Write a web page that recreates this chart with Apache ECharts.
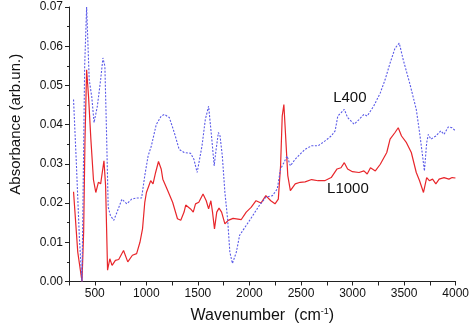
<!DOCTYPE html>
<html>
<head>
<meta charset="utf-8">
<script src="https://cdn.jsdelivr.net/npm/echarts@6/dist/echarts.min.js"></script>
<style>
  html, body { margin: 0; padding: 0; background: #fff; }
  #chart { width: 472px; height: 329px; }
</style>
</head>
<body>
<div id="chart"></div>
<script>
// wavenumber (cm-1), absorbance pairs
var l1000Wave = [294, 335, 376, 392, 405, 421, 440, 462, 487, 510, 535, 557, 589, 605, 624, 646, 668, 700, 732, 779, 820, 865, 906, 938, 963, 985, 1001, 1042, 1065, 1090, 1118, 1144, 1160, 1207, 1255, 1302, 1334, 1366, 1382, 1429, 1455, 1477, 1509, 1550, 1581, 1604, 1626, 1642, 1661, 1683, 1705, 1730, 1762, 1794, 1841, 1921, 1969, 2016, 2064, 2112, 2159, 2207, 2248, 2280, 2302, 2318, 2334, 2349, 2372, 2397, 2444, 2492, 2540, 2603, 2666, 2730, 2793, 2850, 2888, 2920, 2952, 2999, 3063, 3110, 3142, 3174, 3221, 3269, 3332, 3364, 3412, 3443, 3475, 3523, 3570, 3618, 3650, 3688, 3719, 3745, 3776, 3808, 3840, 3887, 3935, 3966, 3998];
var l1000Abs = [0.0229, 0.0075, 0.0, 0.0126, 0.036, 0.054, 0.047, 0.0363, 0.026, 0.0227, 0.0253, 0.0249, 0.0308, 0.0244, 0.0029, 0.0058, 0.0041, 0.0054, 0.0056, 0.0079, 0.005, 0.0067, 0.0071, 0.010, 0.0134, 0.0202, 0.0227, 0.0257, 0.0249, 0.0278, 0.0306, 0.0287, 0.0261, 0.0232, 0.0202, 0.016, 0.0156, 0.0177, 0.0195, 0.0185, 0.0177, 0.0198, 0.0202, 0.0223, 0.0206, 0.0185, 0.0206, 0.0177, 0.0134, 0.0177, 0.0187, 0.0177, 0.0147, 0.0156, 0.0161, 0.0158, 0.0177, 0.0189, 0.0206, 0.020, 0.0219, 0.0206, 0.0198, 0.021, 0.0295, 0.0422, 0.0451, 0.038, 0.027, 0.0232, 0.0249, 0.0253, 0.0254, 0.026, 0.0257, 0.0257, 0.0265, 0.0287, 0.029, 0.0303, 0.0287, 0.028, 0.0278, 0.0282, 0.0274, 0.029, 0.0282, 0.0299, 0.0329, 0.0363, 0.038, 0.0392, 0.0371, 0.0354, 0.0329, 0.0278, 0.0257, 0.0227, 0.0265, 0.0257, 0.0261, 0.0249, 0.0261, 0.0265, 0.0261, 0.0265, 0.0264];

var l400Wave = [294, 320, 351, 376, 402, 421, 446, 471, 493, 525, 557, 579, 598, 614, 630, 652, 684, 716, 763, 811, 858, 906, 954, 985, 1017, 1049, 1096, 1144, 1176, 1223, 1271, 1318, 1366, 1429, 1461, 1493, 1509, 1540, 1572, 1604, 1620, 1635, 1658, 1677, 1699, 1715, 1737, 1762, 1788, 1810, 1835, 1873, 1905, 1969, 2032, 2096, 2159, 2223, 2270, 2302, 2334, 2365, 2397, 2444, 2492, 2540, 2603, 2666, 2730, 2793, 2831, 2857, 2888, 2920, 2952, 3015, 3063, 3110, 3142, 3205, 3269, 3316, 3364, 3412, 3453, 3491, 3554, 3618, 3650, 3675, 3697, 3719, 3735, 3760, 3808, 3856, 3887, 3928, 3966, 3998];
var l400Abs = [0.0464, 0.031, 0.011, 0.0, 0.055, 0.070, 0.0515, 0.047, 0.0405, 0.0447, 0.0515, 0.057, 0.0549, 0.038, 0.019, 0.0168, 0.0156, 0.0177, 0.021, 0.0198, 0.021, 0.0213, 0.0213, 0.027, 0.032, 0.0346, 0.040, 0.0422, 0.0426, 0.0418, 0.038, 0.0337, 0.0329, 0.0327, 0.0312, 0.0278, 0.028, 0.0346, 0.0413, 0.0447, 0.0443, 0.0363, 0.0295, 0.0337, 0.038, 0.0371, 0.032, 0.0227, 0.016, 0.0075, 0.0046, 0.0075, 0.0118, 0.0143, 0.0168, 0.0194, 0.0215, 0.0219, 0.0236, 0.0287, 0.0303, 0.032, 0.0295, 0.0312, 0.0325, 0.0337, 0.0346, 0.0346, 0.0358, 0.0371, 0.0384, 0.0422, 0.043, 0.0439, 0.0418, 0.0401, 0.0413, 0.0426, 0.0422, 0.0447, 0.0481, 0.0515, 0.0557, 0.0595, 0.0608, 0.0566, 0.0506, 0.0439, 0.038, 0.0329, 0.0282, 0.0354, 0.0375, 0.0363, 0.0371, 0.0384, 0.0375, 0.0394, 0.0392, 0.0384];

var xTicks = [500, 1000, 1500, 2000, 2500, 3000, 3500, 4000];
var seriesNames = ['L400', 'L1000'];
var labelSpots = [[2974, 0.0469], [2955, 0.0236]];

function pairs(xs, ys) {
    var out = [];
    for (var i = 0; i < xs.length; i++) {
        out.push([xs[i], ys[i]]);
    }
    return out;
}

var font = 'Liberation Sans, Arial, sans-serif';
var dom = document.getElementById('chart');
var myChart = echarts.init(dom, null, { renderer: 'canvas' });

var option = {
    animation: false,
    backgroundColor: '#fff',
    grid: { left: 62, right: 15, top: 7, bottom: 46 },
    xAxis: {
        type: 'value',
        min: 250,
        max: 4000,
        interval: 250,
        name: 'Wavenumber  (cm{sup|-1})',
        nameLocation: 'middle',
        nameGap: 26,
        nameTextStyle: {
            fontFamily: font, fontSize: 16, color: '#111',
            rich: { sup: { fontSize: 9, verticalAlign: 'top', padding: [0, 0, 8, 0], fontFamily: font, color: '#111' } }
        },
        axisLine: { lineStyle: { color: '#222', width: 1 } },
        axisTick: { length: 4, lineStyle: { color: '#222' } },
        axisLabel: {
            fontFamily: font, fontSize: 12, color: '#111', margin: 6,
            formatter: function (v) { return xTicks.indexOf(v) >= 0 ? String(v) : ''; }
        },
        splitLine: { show: false }
    },
    yAxis: {
        type: 'value',
        min: 0,
        max: 0.07,
        interval: 0.01,
        name: 'Absorbance (arb.un.)',
        nameLocation: 'middle',
        nameGap: 46,
        nameTextStyle: { fontFamily: font, fontSize: 15, color: '#111', padding: [0, 0, 0, 40] },
        axisLine: { show: true, lineStyle: { color: '#222', width: 1 } },
        axisTick: { show: true, length: 4, lineStyle: { color: '#222' } },
        minorTick: { show: true, splitNumber: 2, length: 2, lineStyle: { color: '#222' } },
        axisLabel: {
            fontFamily: font, fontSize: 12, color: '#111', margin: 6,
            formatter: function (v) { return v.toFixed(2); }
        },
        splitLine: { show: false }
    },
    series: [
        {
            name: seriesNames[1],
            type: 'line',
            data: pairs(l1000Wave, l1000Abs),
            showSymbol: false,
            symbol: 'none',
            lineStyle: { color: '#e8262b', width: 1.2 },
            markPoint: {
                symbol: 'circle', symbolSize: 0,
                label: { show: true, position: 'inside', formatter: seriesNames[1], fontFamily: font, fontSize: 15, color: '#111' },
                data: [{ coord: labelSpots[1] }]
            },
            z: 2
        },
        {
            name: seriesNames[0],
            type: 'line',
            data: pairs(l400Wave, l400Abs),
            showSymbol: false,
            symbol: 'none',
            lineStyle: { color: '#5a5ae8', width: 1.1, type: [2, 1.5] },
            markPoint: {
                symbol: 'circle', symbolSize: 0,
                label: { show: true, position: 'inside', formatter: seriesNames[0], fontFamily: font, fontSize: 15, color: '#111' },
                data: [{ coord: labelSpots[0] }]
            },
            z: 3
        }
    ]
};

myChart.setOption(option, true);
</script>
</body>
</html>
